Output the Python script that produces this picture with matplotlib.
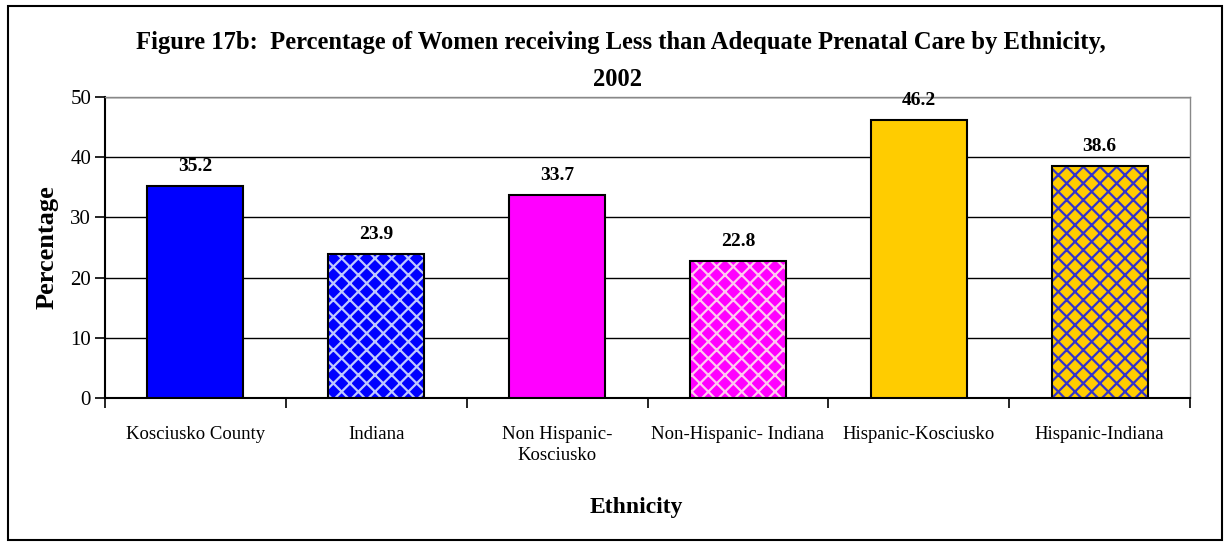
import matplotlib
matplotlib.use("Agg")
import matplotlib.pyplot as plt
import numpy as np
from matplotlib.patches import Rectangle

categories = ["Kosciusko County", "Indiana", "Non Hispanic-\nKosciusko",
              "Non-Hispanic- Indiana", "Hispanic-Kosciusko", "Hispanic-Indiana"]
values = [35.2, 23.9, 33.7, 22.8, 46.2, 38.6]
fills = ["#0000FF", "#0000FF", "#FF00FF", "#FF00FF", "#FFCC00", "#FFCC00"]
hatch_colors = [None, "#BFC8FF", None, "#FFC8F0", None, "#3333CC"]

plt.rcParams["font.family"] = ["Liberation Serif", "DejaVu Serif"]
plt.rcParams["hatch.linewidth"] = 1.6

fig = plt.figure(figsize=(12.31, 5.46), dpi=100)
ax = fig.add_axes([105 / 1231, 1 - 398 / 546, 1085 / 1231, 301 / 546])

x = np.arange(len(categories))
w = 0.53
for i, (v, fc, hc) in enumerate(zip(values, fills, hatch_colors)):
    if hc is not None:
        ax.bar(x[i], v, w, color=fc, edgecolor=hc, hatch="xx", linewidth=0, zorder=3)
    else:
        ax.bar(x[i], v, w, color=fc, linewidth=0, zorder=3)
    ax.bar(x[i], v, w, fill=False, edgecolor="black", linewidth=1.5, zorder=4)
    ax.text(x[i], v + 1.8, f"{v:.1f}", ha="center", va="bottom",
            fontsize=14, fontweight="bold", zorder=5)

ax.set_xlim(-0.5, len(categories) - 0.5)
ax.set_ylim(0, 50)
ax.set_yticks(np.arange(0, 51, 10))
ax.tick_params(axis="y", labelsize=15, direction="out", length=7, width=1.2, pad=3)
ax.set_xticks(np.arange(-0.5, len(categories), 1.0))
ax.set_xticklabels([])
ax.set_xticks(x, minor=True)
ax.set_xticklabels(categories, minor=True, fontsize=13.5, va="top", linespacing=1.35)
ax.tick_params(axis="x", which="major", direction="out", length=7, width=1.2)
ax.tick_params(axis="x", which="minor", length=0, pad=20)

ax.yaxis.grid(True, color="black", linewidth=1)
ax.set_axisbelow(True)
for s in ["left", "bottom"]:
    ax.spines[s].set_linewidth(1.5)
for s in ["top", "right"]:
    ax.spines[s].set_color("#888888")
    ax.spines[s].set_linewidth(1)

fig.text(47 / 1231, 1 - 247 / 546, "Percentage", ha="center", va="center",
         rotation=90, fontsize=19, fontweight="bold")
fig.text(636 / 1231, 1 - 508 / 546, "Ethnicity", ha="center", va="center",
         fontsize=17, fontweight="bold")
fig.text(621 / 1231, 1 - 42 / 546, "Figure 17b:  Percentage of Women receiving Less than Adequate Prenatal Care by Ethnicity,",
         ha="center", va="center", fontsize=17.7, fontweight="bold")
fig.text(617 / 1231, 1 - 79 / 546, "2002", ha="center", va="center",
         fontsize=17.7, fontweight="bold")

fig.patches.append(Rectangle((8 / 1231, 6 / 546), 1214 / 1231, 534 / 546,
                             transform=fig.transFigure, fill=False,
                             edgecolor="black", linewidth=1.5))

fig.savefig("out.png", dpi=100, facecolor="white")
